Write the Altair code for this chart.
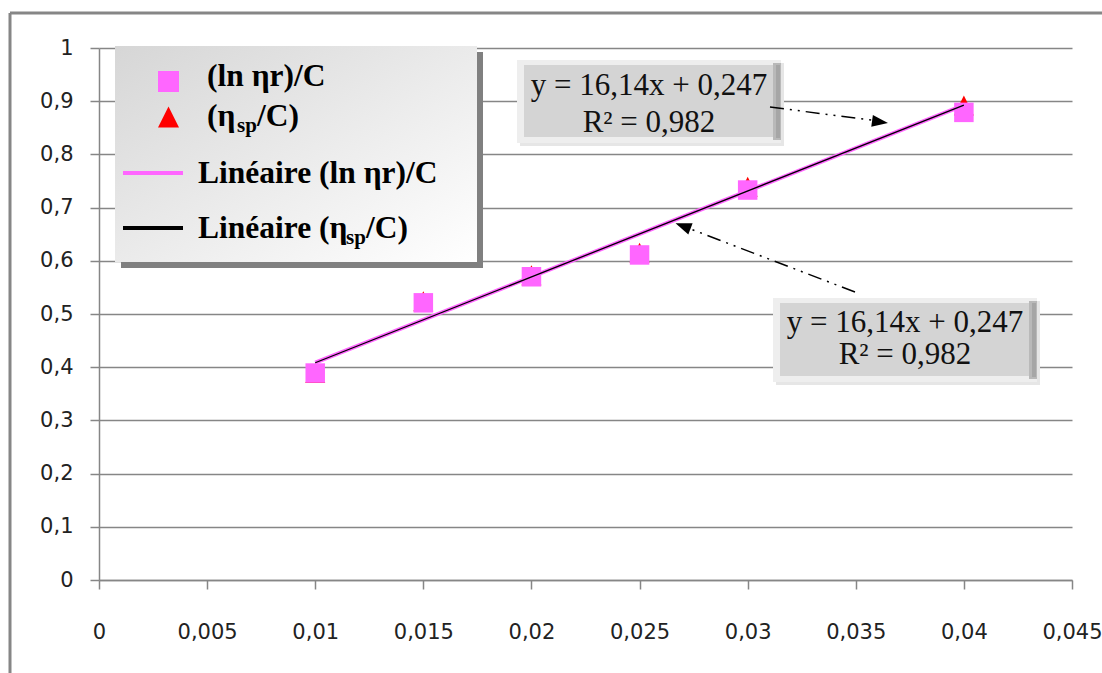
import altair as alt
import pandas as pd

# Concentration (g/mL) and reduced / inherent viscosities
conc = [0.010, 0.015, 0.020, 0.025, 0.030, 0.040]
ln_eta_r_c = [0.389, 0.521, 0.570, 0.611, 0.733, 0.879]
eta_sp_c = [0.389, 0.524, 0.573, 0.615, 0.739, 0.892]

# Linear fit shown on the chart
fit_slope = 16.14
fit_intercept = 0.247
fit_r2 = 0.982
fit_x = [0.010, 0.040]

x_ticks = [0, 0.005, 0.01, 0.015, 0.02, 0.025, 0.03, 0.035, 0.04, 0.045]
y_ticks = [0, 0.1, 0.2, 0.3, 0.4, 0.5, 0.6, 0.7, 0.8, 0.9, 1.0]

# Page geometry (plot area offset inside the page)
PAGE_W, PAGE_H = 1102, 673
LEFT, TOP = 99, 48
W, H = 973, 532

GRAY = "#868686"
PINK = "#ff66ff"
RED = "#ff0000"
SERIF = "Liberation Serif"
SANS = "DejaVu Sans"
TRI = "M 0 -1 L 1 1 L -1 1 Z"
ARROW = "M -1 -0.75 L 1 0 L -1 0.75 Z"

one = alt.Data(values=[{"k": 0}])


def rect(x1, y1, x2, y2, **kw):
    return alt.Chart(one).mark_rect(**kw).encode(
        x=alt.value(x1 - LEFT), x2=alt.value(x2 - LEFT),
        y=alt.value(y1 - TOP), y2=alt.value(y2 - TOP))


def rule(x1, y1, x2, y2, **kw):
    return alt.Chart(one).mark_rule(**kw).encode(
        x=alt.value(x1 - LEFT), x2=alt.value(x2 - LEFT),
        y=alt.value(y1 - TOP), y2=alt.value(y2 - TOP))


def label(x, y, s, **kw):
    return alt.Chart(one).mark_text(text=s, **kw).encode(
        x=alt.value(x - LEFT), y=alt.value(y - TOP))


def symbol(x, y, shape, size, color, angle=0):
    return alt.Chart(one).mark_point(
        shape=shape, size=size, filled=True, color=color, opacity=1,
        angle=angle, strokeWidth=0).encode(
        x=alt.value(x - LEFT), y=alt.value(y - TOP))


x_enc = alt.X("c:Q", title="",
              scale=alt.Scale(domain=[0, 0.045], nice=False),
              axis=alt.Axis(values=x_ticks, format=".3~f",
                            labelExpr="replace(datum.label, '.', ',')",
                            grid=False, tickSize=9, tickColor=GRAY,
                            tickWidth=1.5, domainColor=GRAY, domainWidth=1.5,
                            labelFont=SANS, labelFontSize=21,
                            labelColor="#222222", labelPadding=32,
                            labelFlush=False, labelOverlap=False))
y_enc = alt.Y("v:Q", title="",
              scale=alt.Scale(domain=[0, 1], nice=False),
              axis=alt.Axis(values=y_ticks, format=".1~f",
                            labelExpr="replace(datum.label, '.', ',')",
                            grid=True, gridColor=GRAY, gridWidth=1.5,
                            tickSize=9, tickColor=GRAY, tickWidth=1.5,
                            domainColor=GRAY, domainWidth=1.5,
                            labelFont=SANS, labelFontSize=21,
                            labelColor="#222222", labelPadding=17,
                            labelFlush=False, labelOverlap=False))

tri_df = pd.DataFrame({"c": conc, "v": eta_sp_c})
sq_df = pd.DataFrame({"c": conc, "v": ln_eta_r_c})
fit_df = pd.DataFrame({"c": fit_x})

triangles = alt.Chart(tri_df).mark_point(
    shape=TRI, size=400, filled=True, color=RED, opacity=1, strokeWidth=0
).encode(x=x_enc, y=y_enc)
squares = alt.Chart(sq_df).mark_square(
    size=380, color=PINK, opacity=1
).encode(x=x_enc, y=y_enc)
fit_base = alt.Chart(fit_df).transform_calculate(
    v=f"{fit_slope} * datum.c + {fit_intercept}")
fit_pink = fit_base.mark_line(color=PINK, strokeWidth=4).encode(x=x_enc, y=y_enc)
fit_black = fit_base.mark_line(color="black", strokeWidth=1.3).encode(x=x_enc, y=y_enc)

# Outer frame
frame = [
    rule(10, 13, PAGE_W + 10, 13, color=GRAY, strokeWidth=3),
    rule(10, 13, 10, PAGE_H + 10, color=GRAY, strokeWidth=3),
]

# Legend box with shadow and gradient
grad = alt.Gradient(
    gradient="linear", x1=0, y1=0, x2=1, y2=1,
    stops=[alt.GradientStop(color="#d6d6d6", offset=0),
           alt.GradientStop(color="#ffffff", offset=1)])
legend_font = dict(font=SERIF, fontWeight="bold", fontSize=31.5,
                   align="left", baseline="alphabetic", color="black")
legend_sub = dict(font=SERIF, fontWeight="bold", fontSize=21,
                  align="left", baseline="alphabetic", color="black")
legend = [
    rect(121, 52, 483, 268, color="#808080"),
    rect(115, 46, 477, 262, fill=grad),
    symbol(168.5, 81.5, "square", 441, PINK),
    label(207, 86, "(ln ηr)/C", **legend_font),
    symbol(168.5, 117, TRI, 441, RED),
    label(207, 126, "(η", **legend_font),
    label(237, 132, "sp", **legend_sub),
    label(257, 126, "/C)", **legend_font),
    rule(123, 173, 183, 173, color=PINK, strokeWidth=4),
    label(198, 183, "Linéaire (ln ηr)/C", **legend_font),
    rule(123, 228, 183, 228, color="black", strokeWidth=4),
    label(198, 238, "Linéaire (η", **legend_font),
    label(346, 244, "sp", **legend_sub),
    label(366, 238, "/C)", **legend_font),
]

# Equation boxes
eq_line1 = f"y = {fit_slope:.2f}x + {fit_intercept:.3f}".replace(".", ",")
eq_line2 = f"R² = {fit_r2:.3f}".replace(".", ",")
eq_font = dict(font=SERIF, fontSize=31, align="center",
               baseline="alphabetic", color="#111111")


def eq_box(x1, y1, x2, y2, b1, b2):
    cx = (x1 + x2) / 2
    return [
        rect(x1 + 3, y1 + 3, x2 + 3, y2 + 3, color="#e6e6e6"),
        rect(x1, y1, x2, y2, color="#eeeeee"),
        rect(x2 - 8, y1 + 3, x2, y2 - 3, color="#b9b9b9"),
        rect(x2 - 5, y1 + 5, x2 - 1, y2 - 5, color="#a6a6a6"),
        rect(x1 + 7, y1 + 5, x2 - 8, y2 - 6, color="#d4d4d4"),
        label(cx, b1, eq_line1, **eq_font),
        label(cx, b2, eq_line2, **eq_font),
    ]


boxes = eq_box(517, 60, 781, 143, 95, 132) + eq_box(773, 298, 1037, 382, 332, 364)

dash = [14, 6, 2, 6, 2, 6]
arrows = [
    rule(770, 107, 878, 121, color="black", strokeWidth=1.5, strokeDash=dash),
    symbol(880, 122, ARROW, 256, "black", angle=7.7),
    rule(855, 292, 688, 228, color="black", strokeWidth=1.5, strokeDash=dash),
    symbol(683, 226, ARROW, 256, "black", angle=201),
]

chart = alt.layer(
    *frame, triangles, squares, fit_pink, fit_black, *legend, *boxes, *arrows
).properties(
    width=W, height=H,
    padding={"left": LEFT, "top": TOP, "right": PAGE_W - LEFT - W,
             "bottom": PAGE_H - TOP - H},
    autosize=alt.AutoSizeParams(type="none"),
    background="white",
).configure_view(strokeWidth=0)

chart.save("out.html", embed_options={"renderer": "svg", "actions": False})
